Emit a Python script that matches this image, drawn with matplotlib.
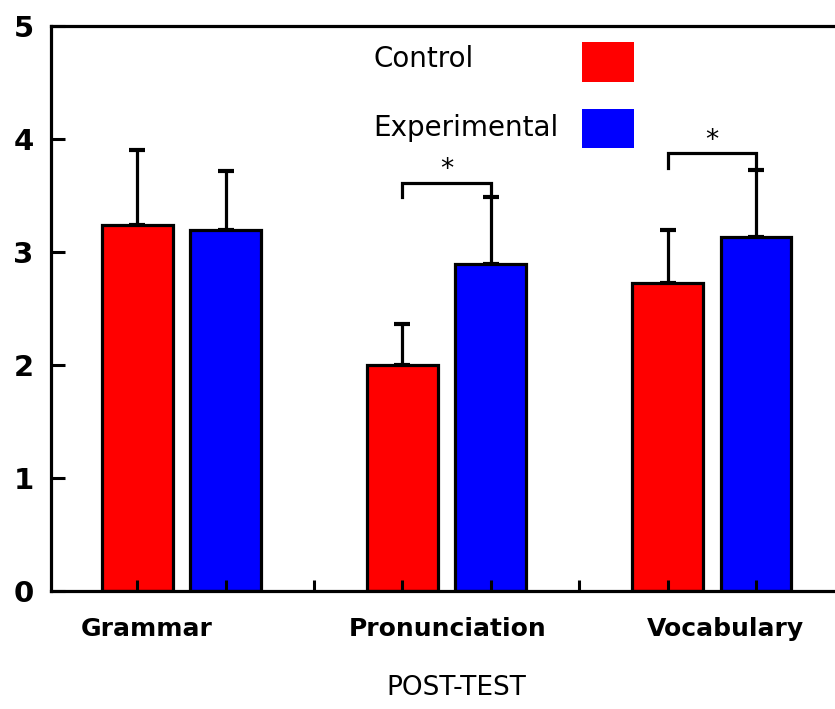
import numpy as np
import matplotlib
matplotlib.use("Agg")
import matplotlib.pyplot as plt
from matplotlib.patches import Rectangle

# values
categories = ["Grammar", "Pronunciation", "Vocabulary"]
groups = ["Control", "Experimental"]
control_mean = [3.24, 2.00, 2.72]
control_sd = [0.66, 0.36, 0.47]
experimental_mean = [3.19, 2.89, 3.13]
experimental_sd = [0.52, 0.59, 0.59]
# significance brackets: category index, bracket top, star
sig_category = [1, 2]
sig_top = [3.61, 3.87]
sig_label = ["*", "*"]

colors = ["#ff0000", "#0000ff"]

fig = plt.figure(figsize=(8.35, 7.09), dpi=100)
ax = fig.add_axes([0.0605, 0.1664, 0.9507, 0.7976])
ax.set_axisbelow(False)  # ticks show on top of the bars

x_ctrl = np.arange(len(categories)) * 3 + 1
x_exp = x_ctrl + 1

lw = 2.3
for xs, means, sds, c in [(x_ctrl, control_mean, control_sd, colors[0]),
                          (x_exp, experimental_mean, experimental_sd, colors[1])]:
    ax.bar(xs, means, width=0.8, color=c, edgecolor="black", linewidth=lw, zorder=2)
    ax.errorbar(xs, means, yerr=[np.zeros(len(sds)), sds], fmt="none",
                ecolor="black", elinewidth=lw, capsize=5.5, capthick=3, zorder=1)

# significance brackets
for ci, top, lab in zip(sig_category, sig_top, sig_label):
    x0, x1 = x_ctrl[ci], x_exp[ci]
    ax.plot([x0, x0, x1, x1], [top - 0.13, top, top, top - 0.13],
            color="black", linewidth=lw, solid_joinstyle="miter", zorder=3)
    ax.text((x0 + x1) / 2, top + 0.05, lab, ha="center", va="baseline",
            fontsize=19)

ax.set_xlim(0.02, 9.0)
ax.set_ylim(0, 5)
ax.set_yticks(range(0, 6))
ax.set_xticks(range(1, 9))
ax.set_xticklabels([])
ax.tick_params(axis="y", direction="in", length=10, width=2.2, pad=12,
               labelsize=21)
ax.tick_params(axis="x", direction="in", length=8, width=2.2)
for t in ax.get_yticklabels():
    t.set_fontweight("bold")
for s in ["left", "bottom", "top"]:
    ax.spines[s].set_linewidth(2.3)
ax.spines["right"].set_visible(False)

# category labels under each pair
label_x = [1.11, 4.51, 7.66]
for lx, name in zip(label_x, categories):
    ax.text(lx, -0.333, name, ha="center", va="center", fontsize=18,
            fontweight="bold", clip_on=False)

ax.set_xlabel("POST-TEST", fontsize=19, va="center")
ax.xaxis.set_label_coords(0.511, -0.172)

# legend drawn by hand: text on the left, colour box on the right
legend_text_y = [0.9266, 0.8046]
legend_box_y = [0.900, 0.783]
for g, c, ty, by in zip(groups, colors, legend_text_y, legend_box_y):
    ax.text(0.4064, ty, g, transform=ax.transAxes, fontsize=20,
            ha="left", va="baseline")
    ax.add_patch(Rectangle((0.669, by), 0.066, 0.070, transform=ax.transAxes,
                           facecolor=c, edgecolor="none", clip_on=False))

fig.savefig("out.png", dpi=100)
